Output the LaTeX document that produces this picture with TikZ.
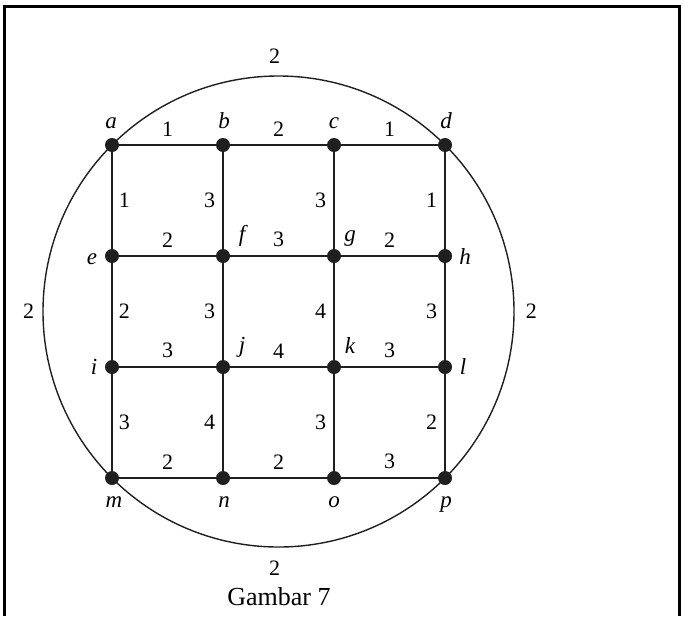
\documentclass[tikz,border=0pt]{standalone}
\usepackage{fontspec}
\setmainfont{Liberation Serif}
\usetikzlibrary{positioning}

\tikzset{
	dot/.style={circle, fill=black!88, inner sep=0pt, minimum size=14pt},
	vname/.style={font=\fontsize{23}{23}\selectfont\itshape, inner sep=0pt, anchor=base},
	wt/.style={font=\fontsize{22}{22}\selectfont, inner sep=0pt},
	edge/.style={line width=1.6pt, draw=black!88},
}

\begin{document}
\begin{tikzpicture}[x=1pt, y=-1pt]
		\useasboundingbox (0,0) rectangle (684,616);
		% frame
		\draw[line width=2.6pt] (4.5,616) -- (4.5,6.5) -- (679.5,6.5) -- (679.5,616);
		% outer ring
		\node[circle, edge, line width=1.4pt, minimum size=471pt, inner sep=0pt] (rim) at (278.5,311.5) {};
		\node[wt, above=12pt of rim.north, xshift=-4pt] (wtop) {2};
		\node[wt, below=13pt of rim.south, xshift=-4pt] (wbot) {2};
		\node[wt, left=8pt of rim.west] (wleft) {2};
		\node[wt, right=11pt of rim.east] (wright) {2};
		% vertices
		\node[dot] (a) at (112,145) {};
		\node[dot] (b) at (223,145) {};
		\node[dot] (c) at (334,145) {};
		\node[dot] (d) at (445,145) {};
		\node[dot] (e) at (112,256) {};
		\node[dot] (f) at (223,256) {};
		\node[dot] (g) at (334,256) {};
		\node[dot] (h) at (445,256) {};
		\node[dot] (i) at (112,367) {};
		\node[dot] (j) at (223,367) {};
		\node[dot] (k) at (334,367) {};
		\node[dot] (l) at (445,367) {};
		\node[dot] (m) at (112,478) {};
		\node[dot] (n) at (223,478) {};
		\node[dot] (o) at (334,478) {};
		\node[dot] (p) at (445,478) {};
		% horizontal edges
		\draw[edge] (a) -- node[wt, above=8pt] {1} (b) -- node[wt, above=8pt] {2} (c) -- node[wt, above=8pt] {1} (d);
		\draw[edge] (e) -- node[wt, above=8pt] {2} (f) -- node[wt, above=8pt] {3} (g) -- node[wt, above=8pt] {2} (h);
		\draw[edge] (i) -- node[wt, above=8pt] {3} (j) -- node[wt, above=8pt] {4} (k) -- node[wt, above=8pt] {3} (l);
		\draw[edge] (m) -- node[wt, above=8pt] {2} (n) -- node[wt, above=8pt] {2} (o) -- node[wt, above=8pt] {3} (p);
		% vertical edges
		\draw[edge] (a) -- node[wt, right=6pt] {1} (e) -- node[wt, right=6pt] {2} (i) -- node[wt, right=6pt] {3} (m);
		\draw[edge] (b) -- node[wt, left=7pt] {3} (f) -- node[wt, left=7pt] {3} (j) -- node[wt, left=7pt] {4} (n);
		\draw[edge] (c) -- node[wt, left=7pt] {3} (g) -- node[wt, left=7pt] {4} (k) -- node[wt, left=7pt] {3} (o);
		\draw[edge] (d) -- node[wt, left=7pt] {1} (h) -- node[wt, left=7pt] {3} (l) -- node[wt, left=7pt] {2} (p);
		% vertex names
		\node[vname] (la) at (111,128) {a};
		\node[vname] (lb) at (224,128) {b};
		\node[vname] (lc) at (334,128) {c};
		\node[vname] (ld) at (446,128) {d};
		\node[vname] (le) at (92,264) {e};
		\node[vname] (lf) at (242,241) {f};
		\node[vname] (lg) at (350,241) {g};
		\node[vname] (lh) at (465,264) {h};
		\node[vname] (li) at (94,374) {i};
		\node[vname] (lj) at (242,352) {j};
		\node[vname] (lk) at (350,353) {k};
		\node[vname] (ll) at (463,374) {l};
		\node[vname] (lm) at (114,507) {m};
		\node[vname] (ln) at (224,507) {n};
		\node[vname] (lo) at (334,507) {o};
		\node[vname] (lp) at (446,507) {p};
		% caption
		\node[font=\fontsize{26}{26}\selectfont, inner sep=0pt] (cap) at (279,597) {Gambar 7};
	\end{tikzpicture}
\end{document}
